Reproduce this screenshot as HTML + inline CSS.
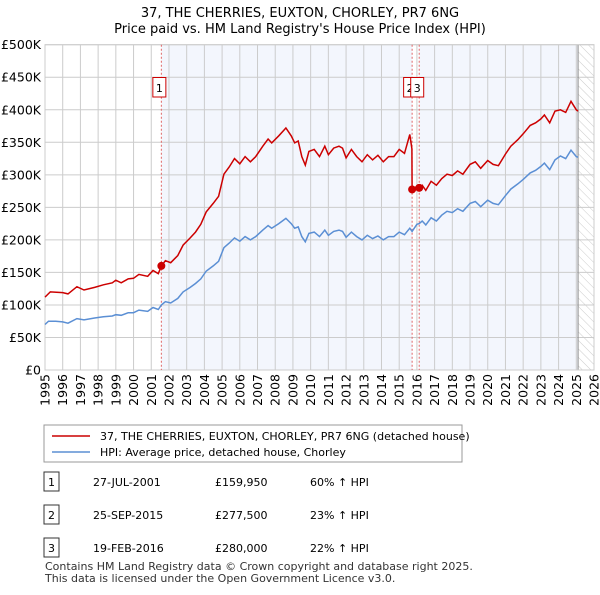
<!DOCTYPE html>
<html><head><meta charset="utf-8"><style>
body{margin:0;background:#fff;font-family:"Liberation Sans","DejaVu Sans",sans-serif;}
svg text{font-family:"DejaVu Sans","Liberation Sans",sans-serif;}
</style></head><body>
<svg id="c" width="600" height="590" viewBox="0 0 600 590" xmlns="http://www.w3.org/2000/svg">
<defs><pattern id="hatch" width="6" height="6" patternUnits="userSpaceOnUse" patternTransform="rotate(-45)"><line x1="0" y1="0" x2="0" y2="6" stroke="#ccc" stroke-width="1"/></pattern></defs>
<text x="300" y="17" font-size="13" text-anchor="middle">37, THE CHERRIES, EUXTON, CHORLEY, PR7 6NG</text>
<text x="300" y="33" font-size="13" text-anchor="middle">Price paid vs. HM Land Registry's House Price Index (HPI)</text>
<g id="plot"></g>
<g>
<rect x="44" y="425" width="418" height="37" fill="#fff" stroke="#999"/>
<line x1="52" y1="436" x2="90" y2="436" stroke="#cc0000" stroke-width="1.5"/>
<text x="100" y="440" font-size="11">37, THE CHERRIES, EUXTON, CHORLEY, PR7 6NG (detached house)</text>
<line x1="52" y1="452" x2="90" y2="452" stroke="#5b8fd4" stroke-width="1.5"/>
<text x="100" y="456" font-size="11">HPI: Average price, detached house, Chorley</text>
</g>
<g id="table" font-size="11"></g>
<text x="45" y="570" font-size="11" fill="#333">Contains HM Land Registry data © Crown copyright and database right 2025.</text>
<text x="45" y="582" font-size="11" fill="#333">This data is licensed under the Open Government Licence v3.0.</text>
</svg>
<script>
const hpiDates=[1995.0,1995.2,1995.6,1996.0,1996.3,1996.8,1997.2,1997.8,1998.3,1998.8,1999.0,1999.3,1999.7,2000.0,2000.3,2000.8,2001.1,2001.4,2001.57,2001.8,2002.1,2002.5,2002.8,2003.2,2003.5,2003.8,2004.1,2004.5,2004.8,2005.1,2005.4,2005.7,2006.0,2006.3,2006.6,2006.9,2007.3,2007.6,2007.8,2008.2,2008.6,2008.9,2009.1,2009.3,2009.5,2009.7,2009.9,2010.2,2010.5,2010.8,2011.0,2011.3,2011.6,2011.8,2012.0,2012.3,2012.6,2012.9,2013.2,2013.5,2013.8,2014.1,2014.4,2014.7,2015.0,2015.3,2015.6,2015.73,2016.0,2016.13,2016.3,2016.5,2016.8,2017.1,2017.4,2017.7,2018.0,2018.3,2018.6,2019.0,2019.3,2019.6,2020.0,2020.3,2020.6,2021.0,2021.3,2021.7,2022.0,2022.4,2022.7,2023.0,2023.2,2023.5,2023.8,2024.1,2024.4,2024.7,2025.0,2025.1];
const hpiValues=[70,75,75,74,72,79,77,80,82,83,85,84,88,88,92,90,96,93,100,105,103,110,120,127,133,140,152,160,167,188,195,203,198,205,200,205,215,222,218,225,233,225,218,220,205,197,210,212,205,215,207,213,215,213,204,212,205,200,207,202,206,200,205,205,212,208,218,213,224,225,229,223,234,229,238,244,242,248,244,256,259,251,261,256,254,268,278,286,293,303,307,313,318,308,323,329,325,338,328,327];
const priceDates=[1995.0,1995.3,1996,1996.3,1996.8,1997.2,1997.8,1998.3,1998.8,1999.0,1999.3,1999.7,2000.0,2000.3,2000.8,2001.1,2001.4,2001.57,2001.8,2002.1,2002.5,2002.8,2003.2,2003.5,2003.8,2004.1,2004.5,2004.8,2005.1,2005.4,2005.7,2006.0,2006.3,2006.6,2006.9,2007.3,2007.6,2007.8,2008.2,2008.6,2008.9,2009.1,2009.3,2009.5,2009.7,2009.9,2010.2,2010.5,2010.8,2011.0,2011.3,2011.6,2011.8,2012.0,2012.3,2012.6,2012.9,2013.2,2013.5,2013.8,2014.1,2014.4,2014.7,2015.0,2015.3,2015.6,2015.72,2015.73,2016.0,2016.13,2016.3,2016.5,2016.8,2017.1,2017.4,2017.7,2018.0,2018.3,2018.6,2019.0,2019.3,2019.6,2020.0,2020.3,2020.6,2021.0,2021.3,2021.7,2022.0,2022.4,2022.7,2023.0,2023.2,2023.5,2023.8,2024.1,2024.4,2024.7,2025.0,2025.1];
const priceValues=[112,120,119,117,128,123,127,131,134,138,134,140,141,147,144,153,148,159.95,168,165,176,192,203,212,224,243,256,267,301,312,325,317,328,320,328,344,355,349,360,372,360,349,352,328,315,336,339,328,344,331,341,344,341,326,339,328,320,331,323,330,320,328,328,339,333,362,340,277.5,282,280,284,276,290,284,294,301,299,306,301,316,320,310,322,316,314,332,344,354,363,376,380,386,392,380,398,400,396,413,400,398];
const saleIds=["1","2","3"];
const saleDates=[2001.57,2015.73,2016.13];
const salePrices=[159950,277500,280000];
const saleDateLabels=["27-JUL-2001","25-SEP-2015","19-FEB-2016"];
const salePriceLabels=["£159,950","£277,500","£280,000"];
const saleHpiLabels=["60% ↑ HPI","23% ↑ HPI","22% ↑ HPI"];
const yTicks=[0,50,100,150,200,250,300,350,400,450,500];
const yTickLabels=["£0","£50K","£100K","£150K","£200K","£250K","£300K","£350K","£400K","£450K","£500K"];
const xTicks=[1995,1996,1997,1998,1999,2000,2001,2002,2003,2004,2005,2006,2007,2008,2009,2010,2011,2012,2013,2014,2015,2016,2017,2018,2019,2020,2021,2022,2023,2024,2025,2026];
const dataEnd=2025.1;

const NS="http://www.w3.org/2000/svg";
const X0=45,X1=594,Y0=370,Y1=44.7;
const xs=d=>X0+(d-1995)/(2026-1995)*(X1-X0);
const ys=v=>Y0-v/500*(Y0-Y1);
const g=document.getElementById('plot');
function mk(tag,at,parent){const e=document.createElementNS(NS,tag);for(const k in at)e.setAttribute(k,at[k]);(parent||g).appendChild(e);return e;}
let e;
e=mk('rect',{x:xs(saleDates[0]),y:Y1,width:xs(saleDates[1])-xs(saleDates[0]),height:Y0-Y1,fill:'#f3f6fd'});


e=mk('rect',{x:xs(saleDates[2]),y:Y1,width:xs(dataEnd)-xs(saleDates[2]),height:Y0-Y1,fill:'#f3f6fd'});


e=mk('rect',{x:xs(dataEnd),y:Y1,width:X1-xs(dataEnd),height:Y0-Y1,fill:'url(#hatch)'});


yTicks.forEach((t,i)=>{
 e=mk('line',{x1:X0,x2:X1,y1:ys(t),y2:ys(t),stroke:'#ccc','stroke-width':1});
 
 
 e=mk('text',{x:X0-4,y:ys(t)+4.5,'font-size':12.5,'text-anchor':'end'});e.textContent=yTickLabels[i];
 
 
});
xTicks.forEach(t=>{
 e=mk('line',{x1:xs(t),x2:xs(t),y1:Y1,y2:Y0,stroke:'#ccc','stroke-width':1});
 
 
 e=mk('text',{x:0,y:0,'font-size':12.5,'text-anchor':'end',transform:`translate(${xs(t)+4.5},374) rotate(-90)`});e.textContent=t;
 
 
});
e=mk('line',{x1:xs(dataEnd),x2:xs(dataEnd),y1:Y1,y2:Y0,stroke:'#888','stroke-width':1});


e=mk('rect',{x:X0,y:Y1,width:X1-X0,height:Y0-Y1,fill:'none',stroke:'#ccc'});


saleDates.forEach((d,i)=>{
 e=mk('line',{x1:xs(d),x2:xs(d),y1:Y1,y2:Y0,stroke:'#e06666','stroke-width':1,'stroke-dasharray':'2,2'});
 
 
});
e=mk('path',{d:hpiDates.map((d,i)=>(i?'L':'M')+xs(d).toFixed(1)+','+ys(hpiValues[i]).toFixed(1)).join(''),fill:'none',stroke:'#5b8fd4','stroke-width':1.5});


e=mk('path',{d:priceDates.map((d,i)=>(i?'L':'M')+xs(d).toFixed(1)+','+ys(priceValues[i]).toFixed(1)).join(''),fill:'none',stroke:'#cc0000','stroke-width':1.5});


saleDates.forEach((d,i)=>{
 e=mk('circle',{cx:xs(d),cy:ys(salePrices[i]/1000),r:4,fill:'#cc0000'});
 
 
});
saleDates.forEach((d,i)=>{
 const bx=xs(d)-8.5;
 e=mk('rect',{x:bx,y:77.5,width:13,height:19.5,fill:'#fff',stroke:'#cc0000'});
 
 
 e=mk('text',{x:bx+6.5,y:92,'font-size':11,'text-anchor':'middle'});e.textContent=saleIds[i];
 
 
});
const tb=document.getElementById('table');
saleIds.forEach((id,i)=>{
 const y=482+i*33;
 e=mk('rect',{x:44,y:y-10,width:15,height:19,fill:'#fff',stroke:'#333'},tb);
 
 
 e=mk('text',{x:51.5,y:y+4,'text-anchor':'middle'},tb);e.textContent=id;
 
 
 e=mk('text',{x:93,y:y+4},tb);e.textContent=saleDateLabels[i];
 
 
 e=mk('text',{x:215,y:y+4},tb);e.textContent=salePriceLabels[i];
 
 
 e=mk('text',{x:310,y:y+4},tb);e.textContent=saleHpiLabels[i];
 
 
});
</script>
</body></html>
